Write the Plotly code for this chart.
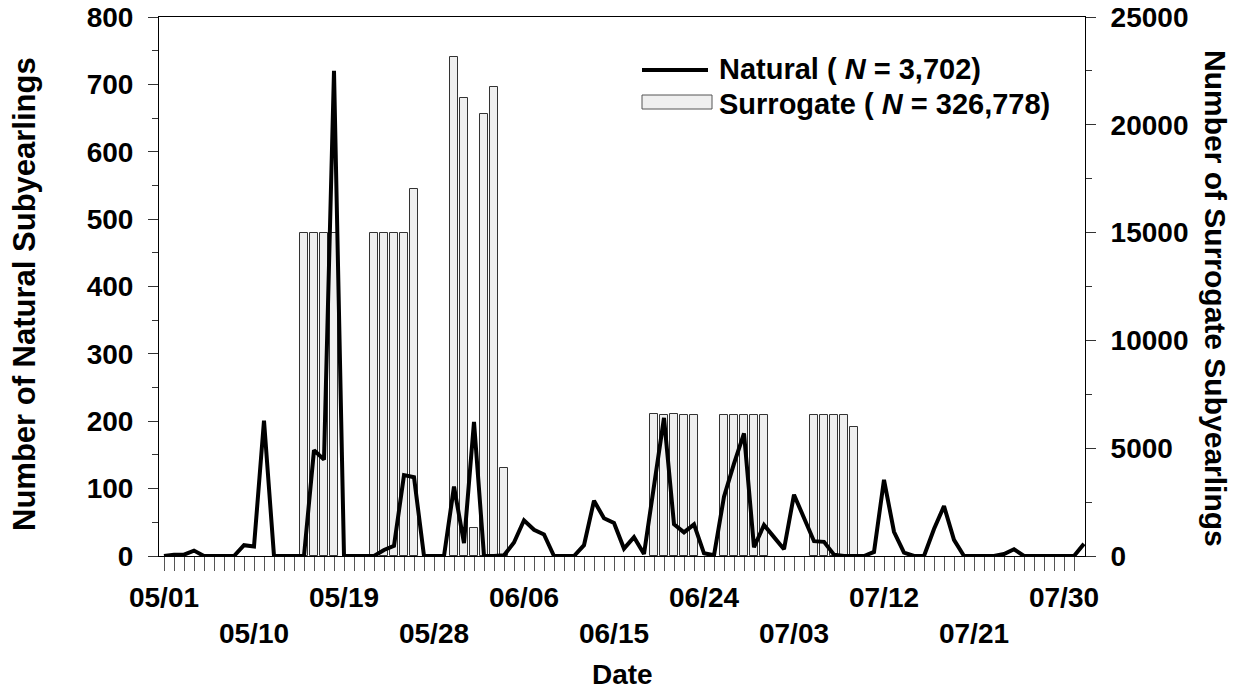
import pandas as pd
import plotly.graph_objects as go

# ---------------- data ----------------
dates = [d.strftime("%m/%d") for d in pd.date_range("2000-05-01", "2000-08-01", freq="D")]

natural_counts = [0, 2, 2, 8, 0, 0, 0, 0, 16, 14,
                  201, 0, 0, 0, 0, 157, 143, 720, 0, 0,
                  0, 0, 9, 15, 120, 117, 0, 0, 0, 103,
                  19, 199, 0, 0, 1, 20, 53, 39, 32, 0,
                  0, 0, 16, 82, 56, 49, 11, 28, 3, 105,
                  205, 47, 35, 47, 4, 1, 88, 137, 182, 13,
                  46, 28, 10, 91, 55, 22, 21, 2, 0, 0,
                  0, 6, 113, 36, 5, 0, 0, 40, 74, 24,
                  0, 0, 0, 0, 3, 10, 0, 0, 0, 0,
                  0, 0, 18]

surrogate_dates = ["05/15", "05/16", "05/17", "05/18",
                   "05/22", "05/23", "05/24", "05/25", "05/26",
                   "05/30", "05/31", "06/01", "06/02", "06/03", "06/04",
                   "06/19", "06/20", "06/21", "06/22", "06/23",
                   "06/26", "06/27", "06/28", "06/29", "06/30",
                   "07/05", "07/06", "07/07", "07/08", "07/09"]
surrogate_counts = [15000, 15000, 15000, 15000,
                    15000, 15000, 15000, 15000, 17000,
                    23150, 21250, 1300, 20500, 21750, 4100,
                    6600, 6520, 6600, 6520, 6520,
                    6520, 6520, 6520, 6520, 6520,
                    6520, 6520, 6520, 6520, 6000]

label_dates_row1 = ["05/01", "05/19", "06/06", "06/24", "07/12", "07/30"]
label_dates_row2 = ["05/10", "05/28", "06/15", "07/03", "07/21"]
tick_dates = dates[:-1]

natural_label = "Natural ( <i>N</i> = 3,702)"
surrogate_label = "Surrogate ( <i>N</i> = 326,778)"

# ---------------- figure ----------------
day_index = {d: i for i, d in enumerate(dates)}
x_nat = [day_index[d] for d in dates]
x_sur = [day_index[d] for d in surrogate_dates]


def tick_label(d):
    if d in label_dates_row1:
        return d
    if d in label_dates_row2:
        return "<br>" + d
    return ""


FONT = "Liberation Sans, Arial, Helvetica, sans-serif"
FS = 28
XR = [-0.5, 92.1]

fig = go.Figure()
fig.add_trace(go.Bar(
    x=x_sur, y=surrogate_counts, width=0.73, name="Surrogate",
    marker=dict(color="#efefef", line=dict(color="#333333", width=1)),
    xaxis="x", yaxis="y", showlegend=False,
))
fig.add_trace(go.Scatter(
    x=x_nat, y=natural_counts, mode="lines", name="Natural",
    line=dict(color="black", width=4), xaxis="x", yaxis="y2", showlegend=False,
))

tick_font = dict(family=FONT, size=FS, color="black", weight="bold")

fig.update_layout(
    width=1245, height=694,
    margin=dict(l=159, r=160, t=17, b=138, autoexpand=False),
    paper_bgcolor="white", plot_bgcolor="white",
    bargap=0,
    xaxis=dict(
        range=XR, showgrid=False, zeroline=False, automargin=False,
        showline=True, linecolor="black", linewidth=1, mirror=True,
        tickmode="array", tickvals=[day_index[d] for d in tick_dates],
        ticktext=[tick_label(d) for d in tick_dates], tickangle=0,
        ticks="outside", ticklen=14, tickwidth=1, tickcolor="#555555",
        tickfont=tick_font, ticklabelstandoff=2,
    ),
    yaxis=dict(
        range=[0, 25000], side="right", showgrid=False, zeroline=False, automargin=False,
        showline=True, linecolor="black", linewidth=1,
        tickmode="linear", tick0=0, dtick=5000, tickformat="d",
        ticks="outside", ticklen=10, tickcolor="#333333", tickfont=tick_font,
        ticklabelstandoff=9,
        minor=dict(dtick=2500, ticks="outside", ticklen=6, tickcolor="#333333", showgrid=False),
    ),
    yaxis2=dict(
        range=[0, 800], overlaying="y", side="left", anchor="x", automargin=False,
        showgrid=False, zeroline=False,
        showline=True, linecolor="black", linewidth=1,
        tickmode="linear", tick0=0, dtick=100, tickformat="d",
        ticks="outside", ticklen=10, tickcolor="#333333", tickfont=tick_font,
        ticklabelstandoff=9,
        minor=dict(dtick=50, ticks="outside", ticklen=6, tickcolor="#333333", showgrid=False),
    ),
)

# helper converting figure pixels to paper coords (for titles / legend placement)
L, R, T, B = 159, 1245 - 160, 17, 694 - 138


def px(xp):
    return (xp - L) / (R - L)


def py(yp):
    return (B - yp) / (B - T)


def tfont(size):
    return dict(family=FONT, size=size, color="black", weight="bold")


ann = [
    dict(text="Number of Natural Subyearlings", x=px(24), y=py(294), textangle=-90, font=tfont(31)),
    dict(text="Number of Surrogate Subyearlings", x=px(1216), y=py(298), textangle=90, font=tfont(30)),
    dict(text="Date", x=px(622), y=py(674), textangle=0, font=tfont(28)),
]
for a in ann:
    fig.add_annotation(xref="paper", yref="paper", showarrow=False,
                       xanchor="center", yanchor="middle", **a)

# legend (drawn manually to match the wide symbols)
fig.add_shape(type="line", xref="paper", yref="paper",
              x0=px(642), x1=px(708), y0=py(70), y1=py(70),
              line=dict(color="black", width=4))
fig.add_shape(type="rect", xref="paper", yref="paper",
              x0=px(642), x1=px(712), y0=py(95), y1=py(109),
              fillcolor="#efefef", line=dict(color="#555555", width=1))
fig.add_annotation(xref="paper", yref="paper", showarrow=False, x=px(717), y=py(69.5),
                   xanchor="left", yanchor="middle", text=natural_label, font=tfont(29))
fig.add_annotation(xref="paper", yref="paper", showarrow=False, x=px(717), y=py(104),
                   xanchor="left", yanchor="middle", text=surrogate_label, font=tfont(29))

fig.write_html("out.html")
